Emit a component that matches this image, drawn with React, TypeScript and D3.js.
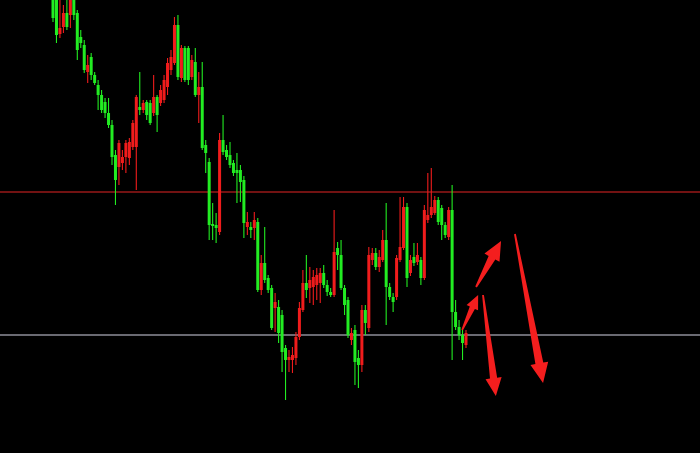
import React, { useEffect, useRef } from 'react';
import * as d3 from 'd3';

// OHLC (arbitrary price units, higher = up)
const opens = [
  1000, 1000, 966, 973, 987, 985, 1000, 987, 963, 955, 928, 943, 925, 915, 905, 898, 887, 875, 845, 833,
  837, 843, 842, 853, 853, 893, 890, 898, 897, 887, 903, 897, 900, 913, 930, 937, 975, 922, 952, 952,
  923, 938, 905, 913, 855, 838, 776, 775, 768, 860, 850, 845, 837, 830, 830, 820, 773, 773, 772, 778,
  710, 737, 722, 712, 692, 693, 685, 652, 640, 640, 642, 663, 690, 717, 712, 713, 715, 717, 727, 715,
  708, 705, 752, 745, 712, 700, 660, 670, 642, 635, 690, 672, 740, 747, 733, 740, 760, 713, 703, 703,
  740, 752, 793, 727, 743, 738, 740, 722, 780, 785, 787, 800, 792, 775, 763, 790, 688, 673, 665, 655,
];
const highs = [
  1005, 1005, 1000, 995, 1000, 1005, 1005, 990, 970, 960, 945, 947, 928, 920, 910, 902, 902, 880, 850, 860,
  850, 860, 862, 880, 905, 928, 900, 900, 900, 925, 905, 915, 925, 942, 950, 983, 985, 955, 954, 954,
  945, 952, 928, 938, 860, 842, 797, 787, 867, 885, 855, 858, 840, 847, 835, 824, 788, 778, 788, 782,
  745, 773, 725, 715, 707, 700, 690, 655, 650, 653, 668, 698, 730, 745, 733, 730, 732, 732, 735, 720,
  712, 790, 758, 760, 715, 703, 672, 675, 650, 695, 695, 753, 752, 752, 750, 770, 797, 717, 707, 745,
  803, 803, 797, 745, 757, 757, 743, 795, 827, 832, 804, 803, 795, 778, 793, 815, 700, 680, 670, 670,
];
const lows = [
  978, 957, 962, 967, 970, 972, 980, 940, 952, 927, 917, 920, 915, 890, 887, 882, 872, 835, 795, 815,
  830, 827, 835, 850, 810, 885, 887, 880, 875, 884, 868, 894, 897, 905, 925, 935, 920, 918, 918, 915,
  920, 903, 877, 850, 827, 760, 760, 757, 765, 845, 840, 832, 824, 797, 798, 762, 765, 762, 760, 708,
  705, 717, 707, 670, 668, 657, 628, 600, 628, 627, 635, 660, 688, 702, 697, 695, 700, 697, 712, 704,
  703, 703, 730, 710, 685, 662, 655, 615, 612, 628, 665, 668, 735, 730, 728, 738, 675, 700, 688, 700,
  738, 750, 713, 724, 734, 735, 715, 720, 777, 782, 785, 775, 760, 762, 760, 640, 670, 660, 640, 652,
];
const closes = [
  982, 965, 972, 987, 973, 1000, 985, 950, 957, 930, 935, 925, 917, 905, 890, 887, 875, 843, 820, 857,
  843, 857, 858, 877, 903, 890, 897, 885, 877, 903, 885, 910, 920, 937, 943, 975, 923, 952, 920, 920,
  940, 905, 913, 852, 847, 775, 774, 772, 860, 848, 843, 835, 827, 827, 818, 777, 778, 770, 780, 710,
  737, 720, 710, 672, 698, 667, 648, 640, 643, 645, 663, 692, 717, 710, 720, 723, 725, 727, 715, 708,
  705, 748, 745, 712, 695, 665, 667, 638, 635, 690, 677, 745, 747, 733, 743, 760, 713, 703, 698, 742,
  753, 793, 722, 740, 737, 745, 722, 790, 785, 793, 800, 778, 775, 765, 790, 688, 673, 665, 657, 667,
];

// horizontal levels
const resistanceLevel = 808;
const supportLevel = 665;

// hand-drawn arrows: [fromIndex, fromPrice, toIndex, toPrice, headSize]
const arrows: [number, number, number, number, number][] = [
  [117.9, 670, 122.5, 705, 14],
  [121.9, 713, 129.1, 759, 19],
  [123.9, 705, 127.6, 604, 18],
  [133.1, 766, 141.2, 617, 20],
];

const WIDTH = 700;
const HEIGHT = 453;
const UP = '#f01c1c';
const DOWN = '#22ec22';

const arrowPath = (x1: number, y1: number, x2: number, y2: number, head: number) => {
  const len = Math.hypot(x2 - x1, y2 - y1);
  const ux = (x2 - x1) / len;
  const uy = (y2 - y1) / len;
  const nx = -uy;
  const ny = ux;
  const bx = x2 - ux * head;
  const by = y2 - uy * head;
  const tail = 0.9;
  const neck = head * 0.2;
  const wing = head * 0.45;
  const pts = [
    [x1 + nx * tail, y1 + ny * tail],
    [bx + nx * neck, by + ny * neck],
    [bx + nx * wing, by + ny * wing],
    [x2, y2],
    [bx - nx * wing, by - ny * wing],
    [bx - nx * neck, by - ny * neck],
    [x1 - nx * tail, y1 - ny * tail],
  ];
  return 'M' + pts.map((p) => p.join(',')).join('L') + 'Z';
};

const App: React.FC = () => {
  const chartRef = useRef<SVGSVGElement>(null);

  useEffect(() => {
    if (!chartRef.current) return;
    const svg = d3.select(chartRef.current);
    svg.selectAll('*').remove();

    const x = d3.scaleLinear().domain([0, opens.length - 1]).range([53, 466]);
    const y = d3.scaleLinear().domain([547, 1000]).range([HEIGHT, 0]);

    svg.append('rect').attr('width', WIDTH).attr('height', HEIGHT).attr('fill', '#000');

    // levels
    svg
      .append('line')
      .attr('x1', 0)
      .attr('x2', WIDTH)
      .attr('y1', y(resistanceLevel))
      .attr('y2', y(resistanceLevel))
      .attr('stroke', '#981818')
      .attr('stroke-width', 1.4);

    svg
      .append('line')
      .attr('x1', 0)
      .attr('x2', WIDTH)
      .attr('y1', y(supportLevel))
      .attr('y2', y(supportLevel))
      .attr('stroke', '#8e8e98')
      .attr('stroke-width', 1.3);

    const idx = d3.range(opens.length);
    const color = (i: number) => (closes[i] >= opens[i] ? UP : DOWN);

    const g = svg.append('g');
    g.selectAll('line.wick')
      .data(idx)
      .join('line')
      .attr('class', 'wick')
      .attr('x1', (i) => x(i))
      .attr('x2', (i) => x(i))
      .attr('y1', (i) => y(highs[i]))
      .attr('y2', (i) => y(lows[i]))
      .attr('stroke', color)
      .attr('stroke-width', 1.1);

    const bw = 3;
    g.selectAll('rect.body')
      .data(idx)
      .join('rect')
      .attr('class', 'body')
      .attr('x', (i) => x(i) - bw / 2)
      .attr('width', bw)
      .attr('y', (i) => y(Math.max(opens[i], closes[i])))
      .attr('height', (i) => Math.max(1.5, Math.abs(y(opens[i]) - y(closes[i]))))
      .attr('fill', color);

    // arrows
    svg
      .selectAll('path.arrow')
      .data(arrows)
      .join('path')
      .attr('class', 'arrow')
      .attr('d', (a) => arrowPath(x(a[0]), y(a[1]), x(a[2]), y(a[3]), a[4]))
      .attr('fill', '#f41e1e');
  }, []);

  return (
    <svg
      ref={chartRef}
      width={WIDTH}
      height={HEIGHT}
      style={{ position: 'absolute', left: 0, top: 0, display: 'block' }}
    ></svg>
  );
};

export default App;
